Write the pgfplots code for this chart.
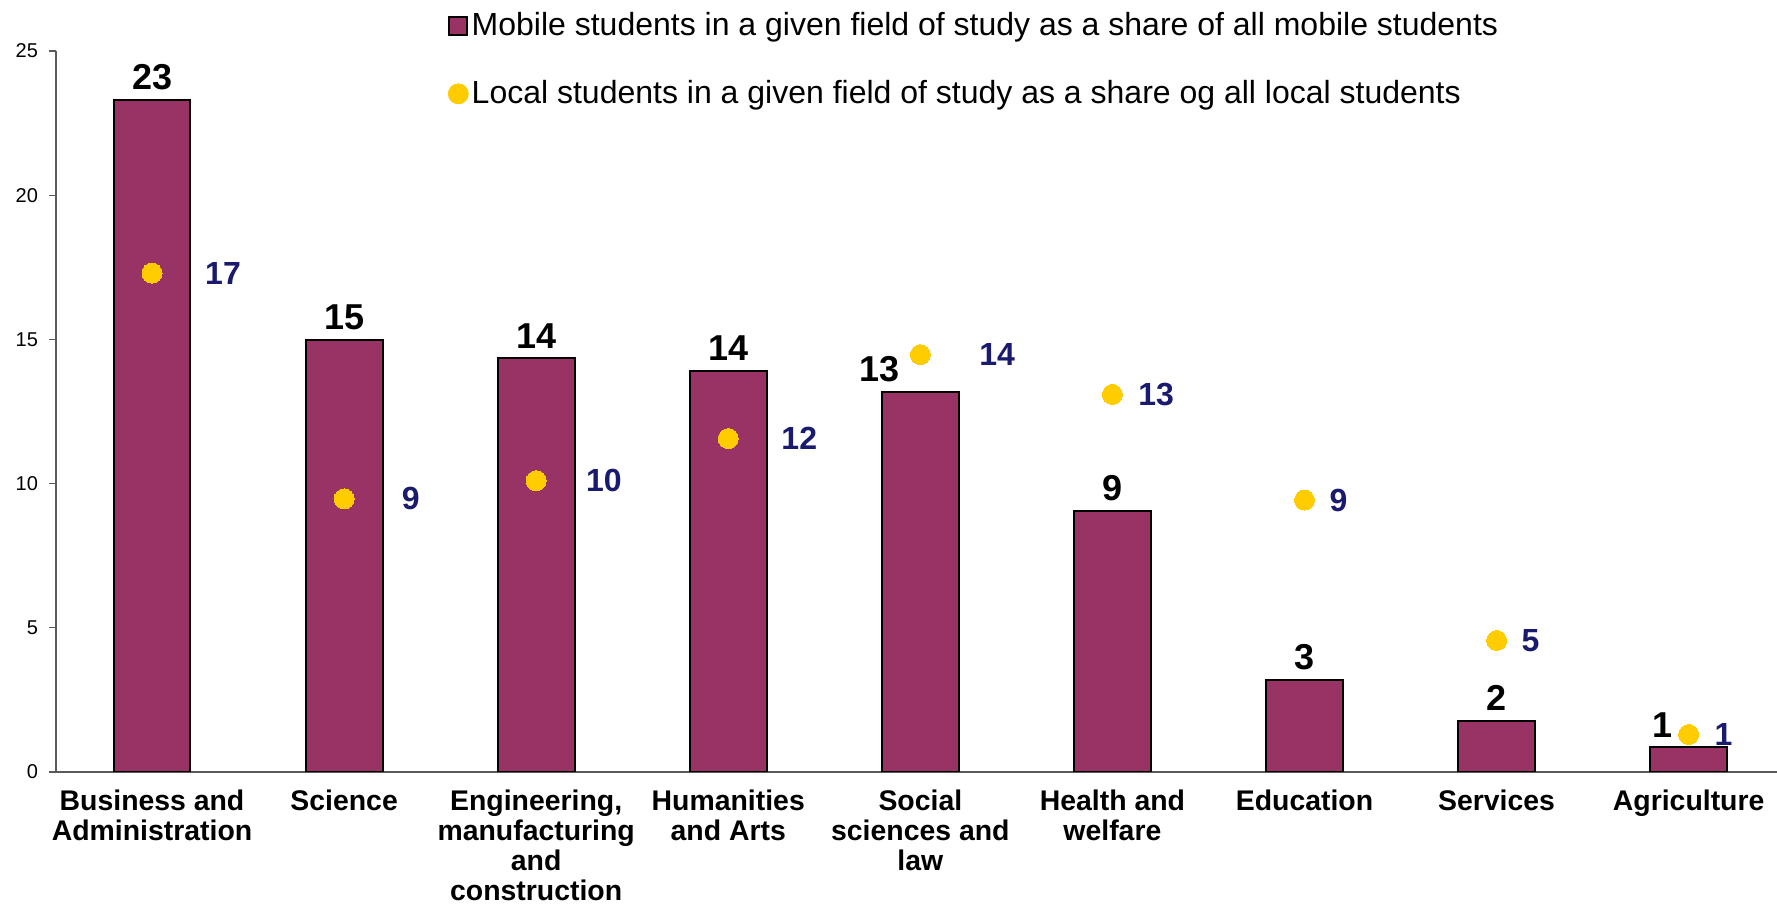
\documentclass[border=0pt]{standalone}
\usepackage{fontspec}
\setmainfont{Liberation Sans}
\usepackage{pgfplots}
\usepackage{pgfplotstable}
\pgfplotsset{compat=1.18}

\definecolor{barcol}{HTML}{993366}
\definecolor{dotcol}{HTML}{FFCC00}
\definecolor{navylbl}{HTML}{1A1A6E}

% mobile students (bars): x, value, label, label shift (pt)
\pgfplotstableread{
x y lbl dx
0 23.30 23 0
1 14.98 15 0
2 14.35 14 0
3 13.92 14 0
4 13.17 13 -20.5
5 9.05 9 0
6 3.18 3 0
7 1.77 2 0
8 0.86 1 -13
}\mobile

% local students (dots)
\pgfplotstableread{
x y lbl dx
0 17.30 17 26.6
1 9.47 9 28.9
2 10.10 10 25
3 11.56 12 26.6
4 14.47 14 29.5
5 13.09 13 13
6 9.43 9 12.5
7 4.56 5 12.5
8 1.30 1 13
}\local

\begin{document}
\begin{tikzpicture}
\begin{axis}[
    name=ax,
    scale only axis,
    width=860.5pt, height=360.5pt,
    xmin=-0.5, xmax=8.46,
    ymin=0, ymax=25,
    axis lines*=left,
    axis line style={black!65, line width=0.6pt},
    tick align=outside,
    major tick length=3.5pt,
    tick style={black!65, line width=0.6pt},
    ytick={0,5,...,25},
    yticklabel style={font=\fontsize{10}{12}\selectfont, xshift=-2pt},
    xtick={0,...,8},
    xticklabels={{Business and\\Administration},{Science},{Engineering,\\manufacturing\\and\\construction},{Humanities\\and Arts},{Social\\sciences and\\law},{Health and\\welfare},{Education},{Services},{Agriculture}},
    xtick style={draw=none},
    xticklabel style={font=\bfseries\fontsize{14.2}{14.9}\selectfont, align=center, anchor=north, yshift=-2pt},
    extra x ticks={-0.5,0.5,...,7.5},
    extra x tick labels={},
    extra x tick style={tick style={draw=black!65}},
    /pgf/number format/assume math mode=true,
    legend style={
        at={(axis description cs:0.2275,1.058)}, anchor=north west,
        draw=none, fill=none, inner sep=0pt,
        font=\fontsize{16}{18}\selectfont,
        row sep=18pt,
        nodes={inner sep=1.5pt},
    },
    legend cell align=left,
]
\addplot[
    ybar, bar width=0.4, bar shift=0pt,
    fill=barcol, draw=black, line width=1pt,
    nodes near coords,
    point meta=explicit symbolic,
    visualization depends on={\thisrow{dx} \as \dx},
    every node near coord/.append style={
        font=\bfseries\fontsize{18}{20}\selectfont, text=black,
        inner sep=0pt, anchor=south, yshift=4.5pt, xshift=\dx pt},
    legend image code/.code={
        \draw[fill=barcol, draw=black, line width=1pt] (0pt,-4.5pt) rectangle (9pt,4.5pt);},
] table[x=x, y=y, meta=lbl] {\mobile};
\addlegendentry{Mobile students in a given field of study as a share of all mobile students}

\addplot[
    color=dotcol,
    only marks, mark=*, mark size=5pt,
    mark options={fill=dotcol, draw=dotcol, line width=0pt},
    nodes near coords,
    point meta=explicit symbolic,
    visualization depends on={\thisrow{dx} \as \dx},
    every node near coord/.append style={
        font=\bfseries\fontsize{16}{18}\selectfont, text=navylbl,
        inner sep=0pt, anchor=west, xshift=\dx pt},
    legend image code/.code={
        \fill[dotcol] (4.5pt,0pt) circle (5pt);},
] table[x=x, y=y, meta=lbl] {\local};
\addlegendentry{Local students in a given field of study as a share og all local students}
\end{axis}
\pgfresetboundingbox
\path ([xshift=-28pt,yshift=-67pt]ax.south west) rectangle ([yshift=25.5pt]ax.north east);
\end{tikzpicture}
\end{document}
